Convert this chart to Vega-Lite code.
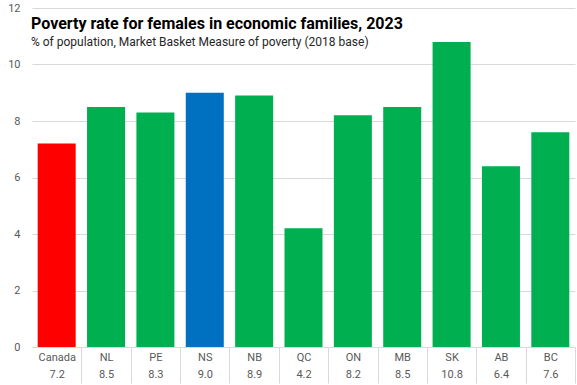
{
  "$schema": "https://vega.github.io/schema/vega-lite/v6.json",
  "width": 543,
  "height": 339,
  "autosize": "none",
  "padding": {"left": 32, "top": 8, "right": 2, "bottom": 38},
  "background": "white",
  "title": {
    "text": "Poverty rate for females in economic families, 2023",
    "subtitle": "% of population, Market Basket Measure of poverty (2018 base)",
    "anchor": "start",
    "frame": "group",
    "orient": "top",
    "offset": -46,
    "dx": -1,
    "font": "Roboto",
    "fontSize": 16,
    "fontWeight": "bold",
    "color": "#000000",
    "subtitleFont": "Roboto",
    "subtitleFontSize": 12,
    "subtitleColor": "#262626",
    "subtitlePadding": 5
  },
  "data": {
    "values": [
      {"region": "Canada", "rate": 7.2, "group": "Canada"},
      {"region": "NL", "rate": 8.5, "group": "Province"},
      {"region": "PE", "rate": 8.3, "group": "Province"},
      {"region": "NS", "rate": 9.0, "group": "NS"},
      {"region": "NB", "rate": 8.9, "group": "Province"},
      {"region": "QC", "rate": 4.2, "group": "Province"},
      {"region": "ON", "rate": 8.2, "group": "Province"},
      {"region": "MB", "rate": 8.5, "group": "Province"},
      {"region": "SK", "rate": 10.8, "group": "Province"},
      {"region": "AB", "rate": 6.4, "group": "Province"},
      {"region": "BC", "rate": 7.6, "group": "Province"}
    ]
  },
  "transform": [
    {"calculate": "datum.region + '|' + format(datum.rate, '.1f')", "as": "key"}
  ],
  "mark": {"type": "bar"},
  "encoding": {
    "x": {
      "field": "key",
      "type": "nominal",
      "sort": null,
      "scale": {"paddingInner": 0.23, "paddingOuter": 0.115},
      "axis": {
        "title": null,
        "labelAngle": 0,
        "labelExpr": "split(datum.label, '|')",
        "labelLineHeight": 17,
        "labelFont": "Roboto",
        "labelFontSize": 11,
        "labelColor": "#595959",
        "labelPadding": -32,
        "labelBaseline": "top",
        "labelOffset": -5.7,
        "domainColor": "#d9d9d9",
        "tickColor": "#d9d9d9",
        "tickSize": 36,
        "bandPosition": 1,
        "tickOffset": 5.7,
        "grid": false
      }
    },
    "y": {
      "field": "rate",
      "type": "quantitative",
      "scale": {"domain": [0, 12]},
      "axis": {
        "title": null,
        "values": [0, 2, 4, 6, 8, 10, 12],
        "domain": false,
        "ticks": false,
        "labelFont": "Roboto",
        "labelFontSize": 11,
        "labelColor": "#595959",
        "labelPadding": 12,
        "gridColor": "#d9d9d9"
      }
    },
    "color": {
      "field": "group",
      "type": "nominal",
      "scale": {"domain": ["Canada", "Province", "NS"], "range": ["#ff0000", "#00b050", "#0070c0"]},
      "legend": null
    }
  },
  "config": {"view": {"stroke": null}}
}
